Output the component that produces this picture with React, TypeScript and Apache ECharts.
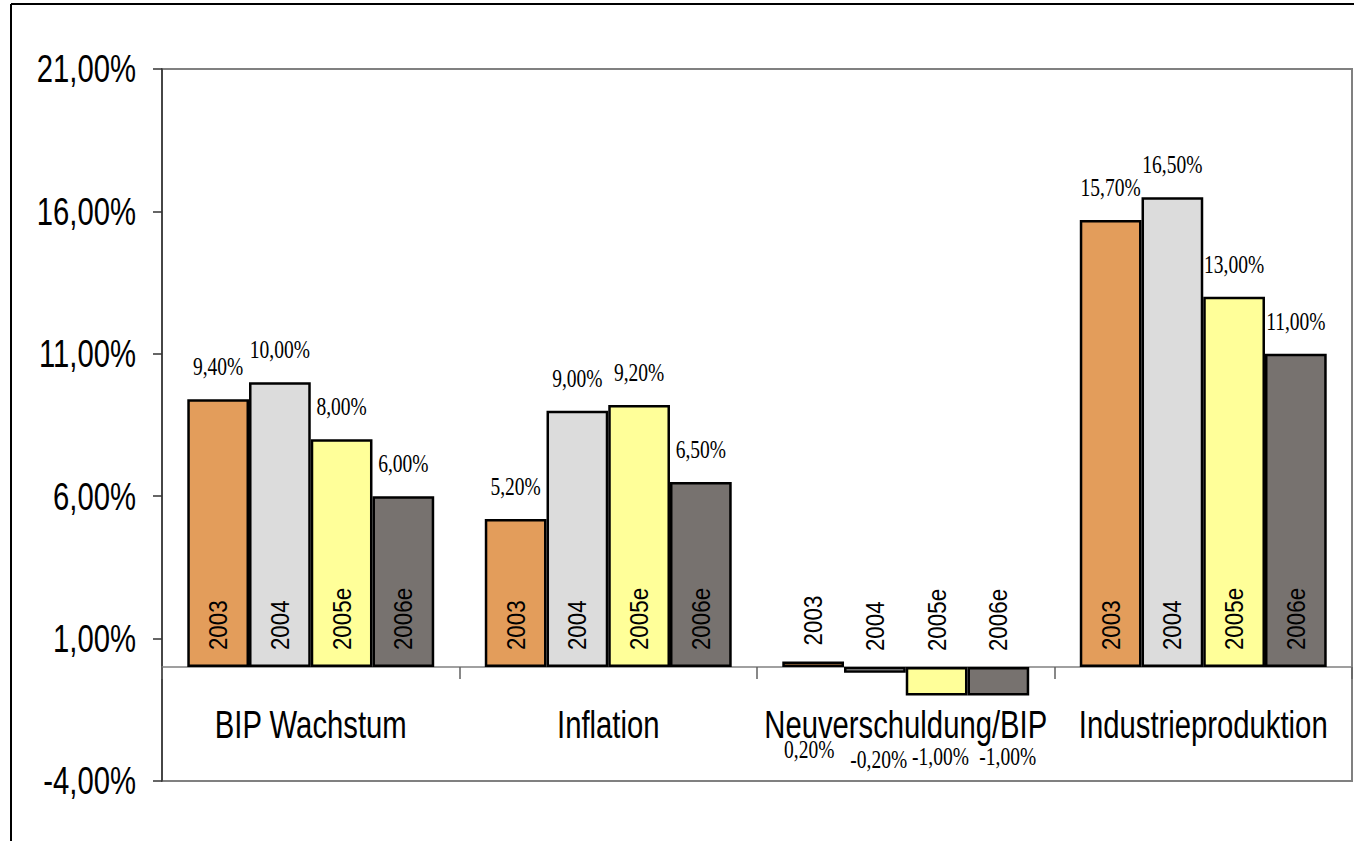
import React, { useEffect, useRef } from 'react';
import * as echarts from 'echarts';

// Categories, series (one per year) and value-axis ticks
const categories = ['BIP Wachstum', 'Inflation', 'Neuverschuldung/BIP', 'Industrieproduktion'];
const years = ['2003', '2004', '2005e', '2006e'];
const values2003 = [9.4, 5.2, 0.2, 15.7];
const values2004 = [10.0, 9.0, -0.2, 16.5];
const values2005e = [8.0, 9.2, -1.0, 13.0];
const values2006e = [6.0, 6.5, -1.0, 11.0];
const yTicks = [-4, 1, 6, 11, 16, 21];

const seriesValues = [values2003, values2004, values2005e, values2006e];
const colors = ['#E39D5B', '#DCDCDC', '#FFFF99', '#77726F'];

// The debt category keeps its value labels below the axis caption
const debtIndex = 2;
const debtLabelDistance = [70, 74, 49, 49];
const debtLabelShift = [-5, 5, 5, 12];

const SANS = '"Liberation Sans", Arial, sans-serif';
const SERIF = '"Liberation Serif", "Times New Roman", serif';

// Font sizes and the horizontal squeeze applied to each kind of text
const AXIS_FONT = 38;
const YEAR_FONT = 26;
const VALUE_FONT = 25;
const squeezeBySize: Record<number, number> = {
  [AXIS_FONT]: 0.77,
  [YEAR_FONT]: 0.86,
  [VALUE_FONT]: 0.78,
};

const pct = (v: number) => v.toFixed(2).replace('.', ',') + '%';

// Narrow every text element along its reading direction (a condensed face)
function condenseTexts(chart: echarts.ECharts) {
  const zr: any = chart.getZr();
  const fontSizeOf = (el: any) => {
    const st = el.style || {};
    if (st.fontSize != null) return parseFloat(String(st.fontSize));
    const m = String(st.font || '').match(/(\d+(?:\.\d+)?)px/);
    return m ? parseFloat(m[1]) : 0;
  };
  const apply = (textEl: any, host?: any) => {
    const s = squeezeBySize[Math.round(fontSizeOf(textEl))];
    if (!s) return;
    textEl.scaleX = s;
    textEl.markRedraw();
    if (host) host.markRedraw();
  };
  const visit = (el: any) => {
    if (!el) return;
    if (el.type === 'text') apply(el);
    const tc = el.getTextContent ? el.getTextContent() : null;
    if (tc) apply(tc, el);
    if (el.isGroup && el.childrenRef) el.childrenRef().forEach(visit);
  };
  zr.storage.getRoots().forEach(visit);
  zr.refreshImmediately();
}

export default function App() {
  const ref = useRef<HTMLDivElement>(null);

  useEffect(() => {
    if (!ref.current) return;
    const chart = echarts.init(ref.current, null, { renderer: 'svg' });

    const barSeries = seriesValues.map((vals, s) => ({
      type: 'bar',
      name: years[s],
      xAxisIndex: 0,
      barGap: '0%',
      barCategoryGap: '17%',
      itemStyle: { color: colors[s], borderColor: '#000', borderWidth: 2.5 },
      label: {
        show: true,
        formatter: years[s],
        rotate: 90,
        position: 'insideBottom',
        distance: 17,
        align: 'left',
        verticalAlign: 'middle',
        fontFamily: SANS,
        fontSize: YEAR_FONT,
        color: '#000',
      },
      data: vals.map((v, i) =>
        i === debtIndex
          ? { value: v, label: { position: 'top', distance: 16 } }
          : { value: v }
      ),
    }));

    const valueLabelSeries = seriesValues.map((vals, s) => ({
      type: 'bar',
      name: years[s] + ' Wert',
      xAxisIndex: 1,
      barGap: '0%',
      barCategoryGap: '17%',
      silent: true,
      itemStyle: { color: 'rgba(0,0,0,0)', borderWidth: 0 },
      label: {
        show: true,
        position: 'top',
        distance: 20,
        formatter: (p: any) => pct(p.value),
        fontFamily: SERIF,
        fontSize: VALUE_FONT,
        color: '#000',
      },
      data: vals.map((v, i) =>
        i === debtIndex
          ? {
              value: v,
              label: {
                position: 'bottom',
                distance: debtLabelDistance[s],
                offset: [debtLabelShift[s], 0],
              },
            }
          : { value: v }
      ),
    }));

    chart.setOption({
      animation: false,
      backgroundColor: '#fff',
      grid: {
        left: 162,
        right: 4,
        top: 69,
        bottom: 60,
        containLabel: false,
        outerBoundsMode: 'none',
        show: true,
        borderColor: '#808080',
        borderWidth: 2,
        backgroundColor: 'transparent',
      },
      graphic: [
        { type: 'line', shape: { x1: 11, y1: 4, x2: 1354, y2: 4 }, style: { stroke: '#000', lineWidth: 2 } },
        { type: 'line', shape: { x1: 11, y1: 4, x2: 11, y2: 841 }, style: { stroke: '#000', lineWidth: 2 } },
      ],
      xAxis: [
        {
          // baseline at zero with category separators
          type: 'category',
          data: categories,
          axisLine: { onZero: true, lineStyle: { color: '#808080', width: 1.5 } },
          axisTick: { show: true, length: 12, lineStyle: { color: '#606060', width: 1.5 } },
          axisLabel: { show: false },
          splitLine: { show: false },
        },
        {
          // category captions just under the zero line
          type: 'category',
          data: categories,
          position: 'bottom',
          offset: -114,
          axisLine: { show: false, onZero: false },
          axisTick: { show: false },
          axisLabel: {
            margin: 39,
            fontFamily: SANS,
            fontSize: AXIS_FONT,
            color: '#000',
            interval: 0,
          },
          splitLine: { show: false },
        },
      ],
      yAxis: {
        type: 'value',
        min: -4,
        max: 21,
        axisLine: { show: true, lineStyle: { color: '#333', width: 1.5 } },
        axisTick: { show: true, length: 9, customValues: yTicks, lineStyle: { color: '#333', width: 1.5 } },
        axisLabel: {
          customValues: yTicks,
          formatter: (v: number) => pct(v),
          margin: 26,
          fontFamily: SANS,
          fontSize: AXIS_FONT,
          color: '#000',
        },
        splitLine: { show: false },
      },
      series: [...barSeries, ...valueLabelSeries],
    });

    condenseTexts(chart);

    return () => chart.dispose();
  }, []);

  return (
    <div
      ref={ref}
      style={{ position: 'absolute', left: 0, top: 0, width: 1356, height: 841 }}
    />
  );
}
